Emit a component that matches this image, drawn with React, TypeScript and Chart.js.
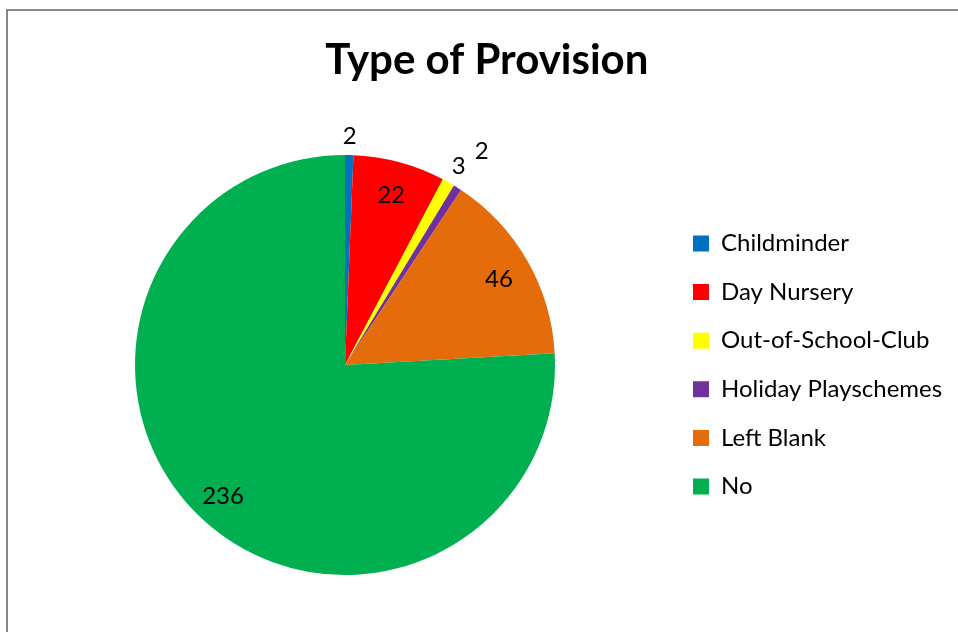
import React, { useEffect, useRef } from "react";
import { Chart, registerables } from "chart.js";

Chart.register(...registerables);

const titleText = "Type of Provision";
const categories = [
  "Childminder",
  "Day Nursery",
  "Out-of-School-Club",
  "Holiday Playschemes",
  "Left Blank",
  "No",
];
const counts = [2, 22, 3, 2, 46, 236];
const sliceColors = ["#0070C0", "#FF0000", "#FFFF00", "#7030A0", "#E46C0A", "#00B050"];

const FONT = "Lato";
const LEGEND_FS = 24;
const LABEL_FS = 24;
const TITLE_FS = 42;
const TITLE_Y = 60;
const W = 958;
const H = 632;

const valueLabels = {
  id: "valueLabels",
  afterDatasetsDraw(chart: any) {
    const ctx = chart.ctx;
    const meta = chart.getDatasetMeta(0);
    const data = chart.data.datasets[0].data as number[];
    const total = data.reduce((a, b) => a + b, 0);
    ctx.save();
    ctx.fillStyle = "#000";
    ctx.font = `${LABEL_FS}px ${FONT}`;
    ctx.textAlign = "center";
    ctx.textBaseline = "middle";
    let prevOutsideAngle: number | null = null;
    let prevBump = 0;
    meta.data.forEach((arc: any, i: number) => {
      const p = arc.getProps(["x", "y", "startAngle", "endAngle", "outerRadius"], true);
      const mid = (p.startAngle + p.endAngle) / 2;
      const frac = data[i] / total;
      let r: number;
      if (frac >= 0.05) {
        r = p.outerRadius * 0.845;
        prevOutsideAngle = null;
      } else {
        r = p.outerRadius + 21;
        if (prevOutsideAngle !== null && Math.abs(mid - prevOutsideAngle) < 0.12) {
          prevBump += 24;
        } else {
          prevBump = 0;
        }
        r += prevBump;
        prevOutsideAngle = mid;
      }
      ctx.fillText(String(data[i]), p.x + Math.cos(mid) * r, p.y + Math.sin(mid) * r + 2);
    });
    ctx.restore();
  },
};

export default function App() {
  const canvasRef = useRef<HTMLCanvasElement | null>(null);

  useEffect(() => {
    if (!canvasRef.current) return;
    const m = document.createElement("canvas").getContext("2d")!;
    m.font = `${LEGEND_FS}px ${FONT}`;
    const textW = Math.max(...categories.map((c) => m.measureText(c).width));
    const legendPad = 48.6 - LEGEND_FS;
    const markerX = 693;
    const legendRight = markerX + 16 + LEGEND_FS / 2 + textW + 10;
    const padRight = W - legendRight;
    const padLeft = 2 * 345 - (markerX - legendPad);
    const half = (TITLE_FS * 1.2) / 2;

    const chart = new Chart(canvasRef.current, {
      type: "pie",
      data: {
        labels: categories,
        datasets: [
          {
            data: counts,
            backgroundColor: sliceColors,
            borderWidth: 0,
          },
        ],
      },
      options: {
        animation: false,
        responsive: false,
        maintainAspectRatio: false,
        layout: { padding: { left: padLeft, right: padRight, top: 0, bottom: 57 } },
        plugins: {
          title: {
            display: true,
            text: titleText,
            color: "#000",
            font: { family: FONT, size: TITLE_FS, weight: "bold" },
            padding: { top: TITLE_Y - half, bottom: 155 - TITLE_Y - half },
          },
          legend: {
            display: true,
            position: "right",
            fullSize: false,
            labels: {
              boxWidth: 16,
              boxHeight: 16,
              padding: legendPad,
              color: "#000",
              font: { family: FONT, size: LEGEND_FS },
            },
          },
          tooltip: { enabled: false },
        },
      },
      plugins: [valueLabels],
    });
    return () => chart.destroy();
  }, []);

  return (
    <div style={{ position: "fixed", left: 0, top: 0, width: W, height: H, background: "#fff", overflow: "hidden" }}>
      <div
        style={{
          position: "absolute",
          left: 6,
          top: 9,
          width: 2000,
          height: 2000,
          borderLeft: "2px solid #878787",
          borderTop: "2px solid #878787",
        }}
      />
      <canvas ref={canvasRef} width={W} height={H} style={{ position: "absolute", left: 0, top: 0, width: W, height: H }} />
    </div>
  );
}
